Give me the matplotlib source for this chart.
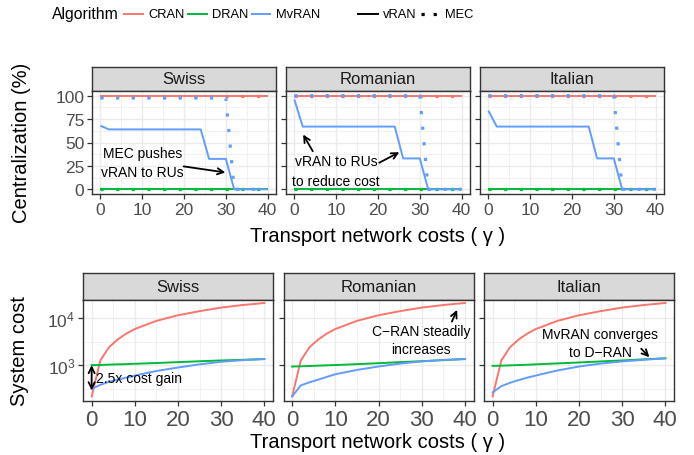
import matplotlib
matplotlib.use("Agg")
import matplotlib.pyplot as plt
from matplotlib.lines import Line2D
from matplotlib.ticker import FixedLocator, NullFormatter

plt.rcParams["font.family"] = ["Liberation Sans", "DejaVu Sans"]
plt.rcParams["mathtext.fontset"] = "custom"
plt.rcParams["mathtext.rm"] = "Liberation Sans"
plt.rcParams["mathtext.it"] = "Liberation Sans:italic"

regions = ["Swiss", "Romanian", "Italian"]
algorithms = ["CRAN", "DRAN", "MvRAN"]
colors = {"CRAN": "#F8766D", "DRAN": "#00BA38", "MvRAN": "#619CFF"}

# centralization (%) vs transport cost, gamma = 0, 2, ..., 40
gamma = list(range(0, 41, 2))
cran_central = [100] * 21
dran_central = [0] * 21
mvran_vran_swiss = [68, 64] + [64] * 11 + [32.5, 32.5, 32.5] + [0] * 5
mvran_vran_romanian = [96, 67] + [67] * 11 + [33, 33, 33] + [0] * 5
mvran_vran_italian = [84, 67] + [67] * 11 + [33, 33, 33] + [0] * 5
mvran_mec_swiss = [97.5] * 16 + [0] * 5
mvran_mec_romanian = [100] * 16 + [0] * 5
mvran_mec_italian = [100] * 16 + [0] * 5

# system cost vs transport cost
gamma_cost = [0, 2, 4, 6, 8, 10, 15, 20, 25, 30, 35, 40]
cran_cost = [215, 1250, 2400, 3500, 4700, 5900, 8800, 11600, 14200, 16900, 19200, 21200]
dran_cost_swiss = [1000, 1010, 1025, 1040, 1050, 1070, 1110, 1160, 1210, 1260, 1300, 1350]
dran_cost_romanian = [935, 945, 960, 975, 990, 1005, 1050, 1100, 1160, 1215, 1280, 1350]
dran_cost_italian = [965, 975, 990, 1005, 1020, 1040, 1090, 1140, 1200, 1260, 1330, 1400]
mvran_cost_swiss = [310, 380, 440, 490, 540, 600, 750, 890, 1040, 1180, 1280, 1350]
mvran_cost_romanian = [215, 370, 430, 490, 560, 640, 790, 935, 1080, 1200, 1290, 1350]
mvran_cost_italian = [263, 355, 420, 480, 540, 600, 770, 935, 1080, 1200, 1300, 1400]

central_vran = {
    "Swiss": [cran_central, dran_central, mvran_vran_swiss],
    "Romanian": [cran_central, dran_central, mvran_vran_romanian],
    "Italian": [cran_central, dran_central, mvran_vran_italian],
}
central_mec = {
    "Swiss": [cran_central, dran_central, mvran_mec_swiss],
    "Romanian": [cran_central, dran_central, mvran_mec_romanian],
    "Italian": [cran_central, dran_central, mvran_mec_italian],
}
system_cost = {
    "Swiss": [cran_cost, dran_cost_swiss, mvran_cost_swiss],
    "Romanian": [cran_cost, dran_cost_romanian, mvran_cost_romanian],
    "Italian": [cran_cost, dran_cost_italian, mvran_cost_italian],
}

W, H = 694, 456
DOTTED = (0, (1, 3.9))
GRID = "#EBEBEB"
DARK = "#333333"
TICK_TXT = "#4D4D4D"

fig = plt.figure(figsize=(W / 100, H / 100), dpi=100)


def px_axes(left, top, right, bottom):
    return fig.add_axes([left / W, 1 - bottom / H, (right - left) / W, (bottom - top) / H])


def fx(x):
    return x / W


def fy(y):
    return 1 - y / H


def strip(left, top, right, bottom, label):
    sax = px_axes(left, top, right, bottom)
    sax.set_facecolor("#D9D9D9")
    sax.set_xticks([])
    sax.set_yticks([])
    for s in sax.spines.values():
        s.set_color(DARK)
        s.set_linewidth(1.0)
    sax.text(0.5, 0.5, label, ha="center", va="center", fontsize=12,
             color="#1A1A1A", transform=sax.transAxes)


def style_panel(ax, xsize):
    ax.set_xlim(-2, 42)
    ax.xaxis.set_major_locator(FixedLocator([0, 10, 20, 30, 40]))
    ax.xaxis.set_minor_locator(FixedLocator([5, 15, 25, 35]))
    ax.grid(True, which="major", color=GRID, lw=1.0)
    ax.grid(True, which="minor", color=GRID, lw=0.5)
    ax.set_axisbelow(True)
    for s in ax.spines.values():
        s.set_color(DARK)
        s.set_linewidth(1.0)
    ax.tick_params(which="major", length=3.5, width=0.9, color=DARK, pad=2,
                   labelcolor=TICK_TXT)
    ax.tick_params(axis="x", labelsize=xsize)
    ax.tick_params(which="minor", length=0)


def arrow(ax, start, end, style="->"):
    ax.annotate("", xy=end, xytext=start,
                arrowprops=dict(arrowstyle=style, color="black", lw=1.3,
                                mutation_scale=11, shrinkA=0, shrinkB=0))


# top row: centralization
top_lefts = [92, 286, 480]
top_axes = []
for i, region in enumerate(regions):
    l = top_lefts[i]
    strip(l, 68, l + 184, 92, region)
    ax = px_axes(l, 92, l + 184, 195)
    style_panel(ax, 12.5)
    ax.set_ylim(-5, 105)
    ax.yaxis.set_major_locator(FixedLocator([0, 25, 50, 75, 100]))
    ax.yaxis.set_minor_locator(FixedLocator([12.5, 37.5, 62.5, 87.5]))
    ax.tick_params(axis="y", labelsize=12.5)
    if i > 0:
        ax.yaxis.set_major_formatter(NullFormatter())
    for alg, ys_v, ys_m in zip(algorithms, central_vran[region], central_mec[region]):
        ax.plot(gamma, ys_v, color=colors[alg], lw=1.4, solid_capstyle="butt")
        ax.plot(gamma, ys_m, color=colors[alg], lw=2.3, linestyle=DOTTED,
                dash_capstyle="butt")
    top_axes.append(ax)

# bottom row: system cost
bot_lefts = [83, 283.5, 484]
bot_axes = []
for i, region in enumerate(regions):
    l = bot_lefts[i]
    strip(l, 274, l + 190, 301, region)
    ax = px_axes(l, 301, l + 190, 402)
    ax.set_yscale("log")
    style_panel(ax, 16)
    ax.set_ylim(10 ** 2.235, 10 ** 4.39)
    ax.yaxis.set_major_locator(FixedLocator([1e3, 1e4]))
    ax.yaxis.set_minor_locator(FixedLocator([10 ** 2.5, 10 ** 3.5]))
    ax.yaxis.set_minor_formatter(NullFormatter())
    ax.tick_params(axis="y", labelsize=12.5)
    if i == 0:
        ax.set_yticklabels([r"$\mathregular{10^3}$", r"$\mathregular{10^4}$"])
    else:
        ax.yaxis.set_major_formatter(NullFormatter())
    for alg, ys in zip(algorithms, system_cost[region]):
        ax.plot(gamma_cost, ys, color=colors[alg], lw=1.4)
    bot_axes.append(ax)

# annotations
ax = top_axes[0]
ax.text(10, 29, "MEC pushes\nvRAN to RUs", ha="center", va="center",
        fontsize=10, linespacing=1.45)
arrow(ax, (19.9, 24.5), (29.9, 18))

ax = top_axes[1]
ax.text(10, 19.5, "vRAN to RUs\nto reduce cost", ha="center", va="center",
        fontsize=10, linespacing=1.5)
arrow(ax, (4.4, 40.7), (2.1, 58.5))
arrow(ax, (20.3, 28.4), (25.1, 39.6))

ax = bot_axes[0]
arrow(ax, (0, 290), (0, 1000), style="<->")
ax.text(0.9, 520, "2.5x cost gain", ha="left", va="center", fontsize=10)

ax = bot_axes[1]
ax.text(29.9, 3500, "C\u2212RAN steadily\nincreases", ha="center", va="center",
        fontsize=10, linespacing=1.35)
arrow(ax, (37.0, 8500), (38.2, 15100))

ax = bot_axes[2]
ax.text(24.9, 3000, "MvRAN converges\nto D\u2212RAN", ha="center", va="center",
        fontsize=10, linespacing=1.35)
arrow(ax, (34.4, 2240), (36.3, 1480))

# axis titles
fig.text(fx(22), fy(143), "Centralization (%)", rotation=90, ha="center",
         va="center", fontsize=14.5)
fig.text(fx(20), fy(351), "System cost", rotation=90, ha="center",
         va="center", fontsize=14.5)
fig.text(fx(378), fy(236), "Transport network costs ( \u03b3 )", ha="center",
         va="center", fontsize=14.5)
fig.text(fx(378), fy(443), "Transport network costs ( \u03b3 )", ha="center",
         va="center", fontsize=14.5)

# legend row
legend_y = fy(15)
fig.text(fx(52), legend_y, "Algorithm", ha="left", va="center", fontsize=11.3)
key_spans = [(124, 143), (188, 207), (252, 270)]
label_x = [148, 212, 276]
for alg, (k0, k1), tx in zip(algorithms, key_spans, label_x):
    fig.add_artist(Line2D([fx(k0), fx(k1)], [legend_y, legend_y], color=colors[alg],
                          lw=1.4, transform=fig.transFigure))
    fig.text(fx(tx), legend_y, alg, ha="left", va="center", fontsize=9.3)
fig.add_artist(Line2D([fx(358), fx(378)], [legend_y, legend_y], color="black", lw=1.4,
                      transform=fig.transFigure))
fig.text(fx(383), legend_y, "vRAN", ha="left", va="center", fontsize=9.3)
fig.add_artist(Line2D([fx(421), fx(440)], [legend_y, legend_y], color="black", lw=2.3,
                      linestyle=(0, (1, 2.8)), dash_capstyle="butt",
                      transform=fig.transFigure))
fig.text(fx(445), legend_y, "MEC", ha="left", va="center", fontsize=9.3)

fig.savefig("out.png", dpi=100)
